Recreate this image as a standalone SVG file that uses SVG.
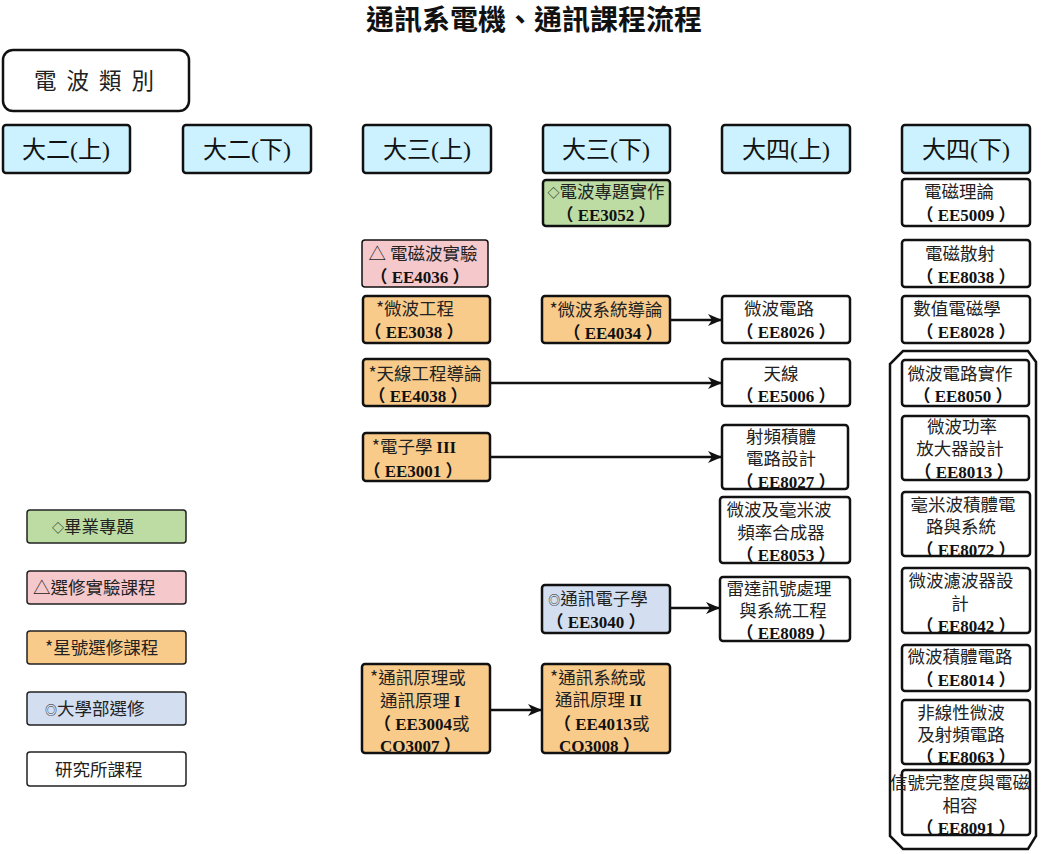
<svg xmlns="http://www.w3.org/2000/svg" width="1041" height="854" viewBox="0 0 1041 854">
<defs>
<style>
.n{stroke:#111;stroke-width:2.5}
.lg{stroke:#222;stroke-width:1.5}
.hd{fill:#CCF2FF}
.gr{fill:#BCDCA4}
.pk{fill:#F5C8CC}
.or{fill:#F9CB8B}
.bl{fill:#D3DEF1}
.wh{fill:#FFFFFF}
.cn{font-family:"Noto Sans CJK TC","Noto Sans",sans-serif;font-size:17.5px;font-weight:normal;fill:#222}
.cd{font-family:"Liberation Serif","Noto Sans CJK TC",serif;font-size:17px;font-weight:bold;fill:#111}
.hdt{font-family:"Noto Sans CJK TC",sans-serif;font-size:24px;fill:#111}
.sr{font-family:"Liberation Serif",serif}
.sm{font-size:12px}
.m{text-anchor:middle}
.c{stroke:#111;stroke-width:2.5;fill:none}
</style>
<marker id="ah" markerWidth="14" markerHeight="12" refX="13" refY="6" orient="auto" markerUnits="userSpaceOnUse">
<path d="M0,0 L14,6 L0,12 L4,6 Z" fill="#111"/>
</marker>
</defs>
<rect width="1041" height="854" fill="#fff"/>
<text x="534" y="30" class="m" style="font-family:'Noto Sans CJK TC',sans-serif;font-size:28px;font-weight:bold;fill:#111">通訊系電機、通訊課程流程</text>

<g id="category">
<rect x="3" y="50" width="186" height="61" rx="10" class="n wh"/>
<text x="99" y="89" class="m" style="font-family:'Noto Sans CJK TC',sans-serif;font-size:22.5px;letter-spacing:10px;fill:#222">電波類別</text>
</g>

<g id="headers">
<g id="h1"><rect x="3" y="125" width="127" height="48" rx="3" class="n hd"/><text x="66" y="158" class="hdt m">大二<tspan class="sr">(</tspan>上<tspan class="sr">)</tspan></text></g>
<g id="h2"><rect x="183" y="125" width="128" height="48" rx="3" class="n hd"/><text x="247" y="158" class="hdt m">大二<tspan class="sr">(</tspan>下<tspan class="sr">)</tspan></text></g>
<g id="h3"><rect x="363" y="125" width="128" height="48" rx="3" class="n hd"/><text x="427" y="158" class="hdt m">大三<tspan class="sr">(</tspan>上<tspan class="sr">)</tspan></text></g>
<g id="h4"><rect x="543" y="125" width="127" height="48" rx="3" class="n hd"/><text x="606" y="158" class="hdt m">大三<tspan class="sr">(</tspan>下<tspan class="sr">)</tspan></text></g>
<g id="h5"><rect x="722" y="125" width="128" height="48" rx="3" class="n hd"/><text x="786" y="158" class="hdt m">大四<tspan class="sr">(</tspan>上<tspan class="sr">)</tspan></text></g>
<g id="h6"><rect x="902" y="125" width="128" height="48" rx="3" class="n hd"/><text x="966" y="158" class="hdt m">大四<tspan class="sr">(</tspan>下<tspan class="sr">)</tspan></text></g>
</g>

<g id="container">
<path d="M903 351 L1028 351 L1036 362 L1036 836 L1028 849 L903 849 L890 836 L890 364 Z" class="c"/>
</g>

<g id="connectors">
<line x1="670" y1="320" x2="721" y2="320" class="c" marker-end="url(#ah)"/>
<line x1="490" y1="383" x2="721" y2="383" class="c" marker-end="url(#ah)"/>
<line x1="490" y1="457" x2="721" y2="457" class="c" marker-end="url(#ah)"/>
<line x1="670" y1="608" x2="719" y2="608" class="c" marker-end="url(#ah)"/>
<line x1="490" y1="710" x2="541" y2="710" class="c" marker-end="url(#ah)"/>
</g>

<g id="EE3052"><rect x="543" y="180" width="127" height="46" rx="3" class="n gr"/><text x="606" y="198" class="cn m"><tspan class="sm">◇</tspan>電波專題實作</text><text x="606" y="221" class="cd m">（ EE3052 ）</text></g>
<g id="EE5009"><rect x="902" y="179" width="128" height="47" rx="3" class="n wh"/><text x="959" y="198" class="cn m">電磁理論</text><text x="966" y="221" class="cd m">（ EE5009 ）</text></g>
<g id="EE4036"><rect x="362" y="240" width="126" height="47" rx="3" class="n pk" style="stroke-width:1.5"/><text x="423" y="260" class="cn m">△ 電磁波實驗</text><text x="420" y="283" class="cd m">（ EE4036 ）</text></g>
<g id="EE8038"><rect x="902" y="240" width="128" height="47" rx="3" class="n wh"/><text x="960" y="260" class="cn m">電磁散射</text><text x="966" y="283" class="cd m">（ EE8038 ）</text></g>
<g id="EE3038"><rect x="363" y="296" width="127" height="47" rx="3" class="n or"/><text x="415" y="315" class="cn m">*微波工程</text><text x="414" y="338" class="cd m">（ EE3038 ）</text></g>
<g id="EE4034"><rect x="542" y="296" width="128" height="47" rx="3" class="n or"/><text x="606" y="316" class="cn m">*微波系統導論</text><text x="613" y="339" class="cd m">（ EE4034 ）</text></g>
<g id="EE8026"><rect x="722" y="296" width="128" height="47" rx="3" class="n wh"/><text x="779" y="315" class="cn m">微波電路</text><text x="786" y="338" class="cd m">（ EE8026 ）</text></g>
<g id="EE8028"><rect x="902" y="296" width="128" height="47" rx="3" class="n wh"/><text x="957" y="315" class="cn m">數值電磁學</text><text x="966" y="338" class="cd m">（ EE8028 ）</text></g>
<g id="EE4038"><rect x="363" y="359" width="127" height="47" rx="3" class="n or"/><text x="425" y="380" class="cn m">*天線工程導論</text><text x="418" y="402" class="cd m">（ EE4038 ）</text></g>
<g id="EE5006"><rect x="722" y="359" width="128" height="47" rx="3" class="n wh"/><text x="781" y="380" class="cn m">天線</text><text x="786" y="402" class="cd m">（ EE5006 ）</text></g>
<g id="EE8050"><rect x="902" y="360" width="127" height="46" rx="3" class="n wh"/><text x="960" y="380" class="cn m">微波電路實作</text><text x="963" y="402" class="cd m">（ EE8050 ）</text></g>
<g id="EE8013"><rect x="902" y="416" width="127" height="64" rx="3" class="n wh"/><text x="962" y="433" class="cn m">微波功率</text><text x="960" y="455" class="cn m">放大器設計</text><text x="964" y="478" class="cd m">（ EE8013 ）</text></g>
<g id="EE3001"><rect x="363" y="433" width="127" height="48" rx="3" class="n or"/><text x="414" y="453" class="cn m">*電子學 <tspan class="cd">III</tspan></text><text x="413" y="477" class="cd m">（ EE3001 ）</text></g>
<g id="EE8027"><rect x="722" y="425" width="126" height="64" rx="3" class="n wh"/><text x="781" y="443" class="cn m">射頻積體</text><text x="781" y="465" class="cn m">電路設計</text><text x="786" y="488" class="cd m">（ EE8027 ）</text></g>
<g id="EE8053"><rect x="720" y="497" width="130" height="66" rx="3" class="n wh"/><text x="779" y="516" class="cn m">微波及毫米波</text><text x="781" y="539" class="cn m">頻率合成器</text><text x="786" y="561" class="cd m">（ EE8053 ）</text></g>
<g id="EE8072"><rect x="902" y="492" width="128" height="64" rx="3" class="n wh"/><text x="963" y="511" class="cn m">毫米波積體電</text><text x="961" y="533" class="cn m">路與系統</text><text x="966" y="556" class="cd m">（ EE8072 ）</text></g>
<g id="EE8042"><rect x="902" y="568" width="128" height="65" rx="3" class="n wh"/><text x="961" y="587" class="cn m">微波濾波器設</text><text x="960" y="610" class="cn m">計</text><text x="966" y="632" class="cd m">（ EE8042 ）</text></g>
<g id="EE3040"><rect x="542" y="585" width="128" height="48" rx="3" class="n bl"/><text x="598" y="605" class="cn m"><tspan class="sm">◎</tspan>通訊電子學</text><text x="596" y="628" class="cd m">（ EE3040 ）</text></g>
<g id="EE8089"><rect x="720" y="577" width="130" height="64" rx="3" class="n wh"/><text x="779" y="595" class="cn m">雷達訊號處理</text><text x="783" y="617" class="cn m">與系統工程</text><text x="786" y="639" class="cd m">（ EE8089 ）</text></g>
<g id="EE8014"><rect x="902" y="645" width="128" height="46" rx="3" class="n wh"/><text x="960" y="663" class="cn m">微波積體電路</text><text x="966" y="686" class="cd m">（ EE8014 ）</text></g>
<g id="EE8063"><rect x="902" y="700" width="128" height="64" rx="3" class="n wh"/><text x="961" y="719" class="cn m">非線性微波</text><text x="961" y="741" class="cn m">及射頻電路</text><text x="966" y="763" class="cd m">（ EE8063 ）</text></g>
<g id="EE8091"><rect x="902" y="770" width="128" height="65" rx="3" class="n wh"/><text x="960" y="789" class="cn m">信號完整度與電磁</text><text x="960" y="812" class="cn m">相容</text><text x="966" y="834" class="cd m">（ EE8091 ）</text></g>
<g id="EE3004"><rect x="362" y="664" width="128" height="89" rx="3" class="n or"/><text x="370" y="684" class="cn">*通訊原理或</text><text x="380" y="707" class="cn">通訊原理 <tspan class="cd">I</tspan></text><text x="374" y="730" class="cd">（ EE3004<tspan class="cn">或</tspan></text><text x="380" y="752" class="cd">CO3007 ）</text></g>
<g id="EE4013"><rect x="542" y="664" width="128" height="89" rx="3" class="n or"/><text x="550" y="684" class="cn">*通訊系統或</text><text x="555" y="706" class="cn">通訊原理 <tspan class="cd">II</tspan></text><text x="554" y="730" class="cd">（ EE4013<tspan class="cn">或</tspan></text><text x="559" y="752" class="cd">CO3008 ）</text></g>

<g id="legend">
<g id="lg1"><rect x="27" y="510" width="159" height="33" rx="3" class="lg gr"/><text x="52" y="533" class="cn"><tspan class="sm">◇</tspan>畢業專題</text></g>
<g id="lg2"><rect x="27" y="571" width="159" height="33" rx="3" class="lg pk"/><text x="33" y="594" class="cn">△選修實驗課程</text></g>
<g id="lg3"><rect x="27" y="631" width="159" height="33" rx="3" class="lg or"/><text x="45" y="654" class="cn">*星號選修課程</text></g>
<g id="lg4"><rect x="27" y="692" width="159" height="33" rx="3" class="lg bl"/><text x="45" y="715" class="cn"><tspan class="sm">◎</tspan>大學部選修</text></g>
<g id="lg5"><rect x="27" y="752" width="159" height="34" rx="3" class="lg wh"/><text x="55" y="776" class="cn">研究所課程</text></g>
</g>
</svg>
